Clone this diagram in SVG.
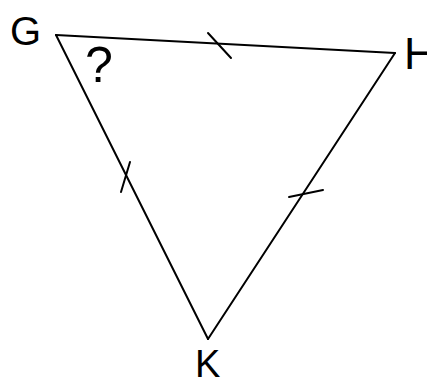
<svg xmlns="http://www.w3.org/2000/svg" width="427" height="380" viewBox="0 0 427 380">
<style>
.e{stroke:#000;stroke-width:2;fill:none;stroke-linecap:round}
.t{font-family:"Liberation Sans",Arial,sans-serif;fill:#000}
</style>
<rect width="427" height="380" fill="#fff"/>
<g id="connectors">
<line class="e" x1="56" y1="35" x2="395" y2="53"/>
<line class="e" x1="395" y1="53" x2="208" y2="339"/>
<line class="e" x1="208" y1="339" x2="56" y2="35"/>
<line class="e" x1="208" y1="33" x2="231" y2="58"/>
<line class="e" x1="130" y1="162" x2="121" y2="192"/>
<line class="e" x1="289" y1="197" x2="323" y2="190"/>
</g>
<g id="G"><text class="t" x="10" y="45" font-size="40">G</text></g>
<g id="H"><text class="t" x="404" y="69" font-size="44">H</text></g>
<g id="K"><text class="t" x="195" y="377" font-size="38">K</text></g>
<g id="q"><text class="t" x="85" y="82" font-size="50">?</text></g>
</svg>
